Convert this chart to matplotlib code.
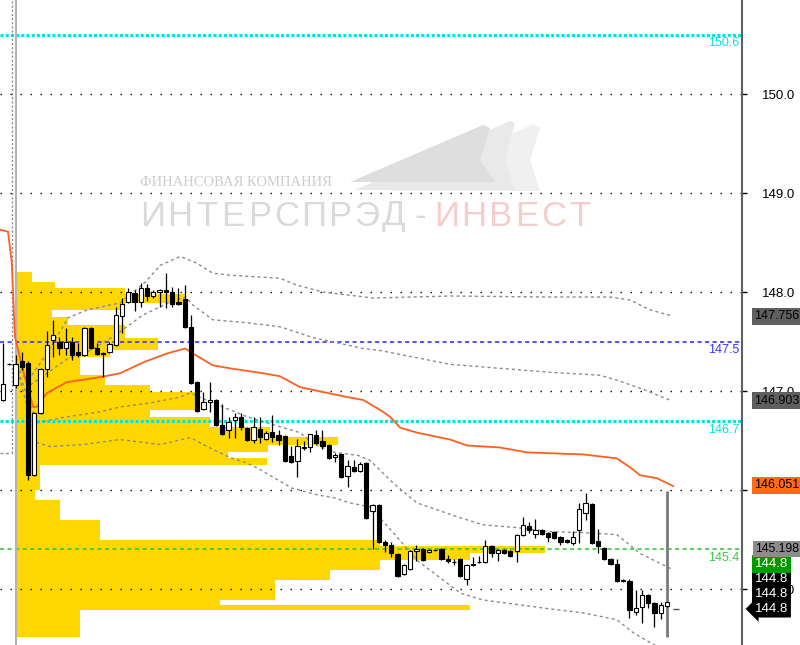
import matplotlib
matplotlib.use('Agg')
import matplotlib.pyplot as plt
from matplotlib.patches import Polygon
from matplotlib.transforms import blended_transform_factory

plt.rcParams['font.family'] = ['Liberation Sans', 'DejaVu Sans']

# candles, one per bar index
opens = [146.91, 147.27, 147.06, 147.30, 147.28, 146.15, 146.78, 147.22, 147.52, 147.50,
         147.43, 147.50, 147.39, 147.36, 147.64, 147.43, 147.38, 147.39, 147.47, 147.76,
         147.90, 147.99, 147.90, 148.04, 147.96, 148.00, 148.02, 148.00, 147.90, 147.93,
         147.65, 147.09, 146.82, 146.89, 146.91, 146.66, 146.61, 146.71, 146.74, 146.63,
         146.51, 146.62, 146.52, 146.59, 146.56, 146.55, 146.34, 146.29, 146.42, 146.44,
         146.56, 146.50, 146.46, 146.33, 146.36, 146.14, 146.23, 146.19, 146.27, 145.79,
         145.85, 145.48, 145.45, 145.35, 145.15, 145.20, 145.38, 145.40, 145.37, 145.39,
         145.40, 145.30, 145.27, 145.30, 145.10, 145.25, 145.27, 145.27, 145.44, 145.36,
         145.39, 145.38, 145.38, 145.55, 145.64, 145.56, 145.60, 145.57, 145.58, 145.53,
         145.50, 145.47, 145.60, 145.77, 145.86, 145.49, 145.41, 145.30, 145.25, 145.09,
         145.08, 144.77, 144.82, 144.94, 144.86, 144.76, 144.83]
highs = [147.49, 147.28, 147.36, 147.39, 147.30, 146.79, 147.23, 147.61, 147.72, 147.55,
         147.64, 147.55, 147.49, 147.65, 147.65, 147.49, 147.39, 147.50, 147.85, 147.94,
         148.04, 148.02, 148.09, 148.08, 148.02, 148.03, 148.19, 148.05, 148.04, 148.07,
         147.77, 147.10, 146.99, 147.09, 146.92, 146.87, 146.74, 146.78, 146.78, 146.64,
         146.74, 146.74, 146.60, 146.76, 146.61, 146.56, 146.45, 146.52, 146.50, 146.57,
         146.61, 146.61, 146.47, 146.37, 146.37, 146.30, 146.30, 146.28, 146.28, 145.86,
         145.86, 145.50, 145.48, 145.36, 145.25, 145.39, 145.45, 145.41, 145.40, 145.40,
         145.41, 145.34, 145.30, 145.31, 145.25, 145.32, 145.33, 145.50, 145.45, 145.40,
         145.40, 145.39, 145.56, 145.73, 145.68, 145.71, 145.61, 145.58, 145.59, 145.54,
         145.51, 145.59, 145.87, 145.97, 145.87, 145.61, 145.42, 145.31, 145.30, 145.10,
         145.10, 144.99, 144.99, 144.95, 144.87, 144.87, 144.87]
lows = [146.90, 147.26, 147.03, 147.21, 146.10, 146.14, 146.77, 147.14, 147.34, 147.36,
        147.36, 147.31, 147.34, 147.35, 147.42, 147.36, 147.14, 147.38, 147.46, 147.59,
        147.89, 147.81, 147.85, 147.91, 147.94, 147.85, 147.84, 147.85, 147.87, 147.64,
        147.07, 146.79, 146.81, 146.79, 146.65, 146.56, 146.53, 146.53, 146.61, 146.50,
        146.48, 146.48, 146.51, 146.49, 146.46, 146.28, 146.27, 146.13, 146.40, 146.38,
        146.47, 146.41, 146.31, 146.28, 146.12, 146.03, 146.18, 146.18, 145.71, 145.40,
        145.47, 145.37, 145.32, 145.12, 145.14, 145.19, 145.28, 145.28, 145.36, 145.38,
        145.29, 145.26, 145.24, 145.12, 145.04, 145.23, 145.26, 145.26, 145.32, 145.28,
        145.35, 145.32, 145.27, 145.54, 145.57, 145.52, 145.55, 145.48, 145.51, 145.45,
        145.47, 145.45, 145.47, 145.70, 145.46, 145.36, 145.29, 145.24, 145.07, 145.07,
        144.71, 144.74, 144.66, 144.81, 144.62, 144.70, 144.82]
closes = [147.07, 147.27, 147.27, 147.24, 146.15, 146.78, 147.22, 147.47, 147.57, 147.43,
          147.50, 147.36, 147.36, 147.64, 147.43, 147.37, 147.37, 147.48, 147.77, 147.88,
          148.00, 147.90, 148.04, 147.96, 148.00, 148.02, 148.00, 147.88, 147.88, 147.65,
          147.08, 146.80, 146.89, 146.91, 146.66, 146.57, 146.69, 146.74, 146.64, 146.51,
          146.64, 146.54, 146.58, 146.54, 146.51, 146.29, 146.28, 146.45, 146.43, 146.57,
          146.48, 146.45, 146.32, 146.35, 146.13, 146.24, 146.19, 146.26, 145.72, 145.85,
          145.48, 145.45, 145.36, 145.13, 145.24, 145.38, 145.40, 145.29, 145.39, 145.39,
          145.30, 145.28, 145.27, 145.13, 145.24, 145.24, 145.27, 145.43, 145.36, 145.39,
          145.36, 145.33, 145.55, 145.65, 145.60, 145.60, 145.56, 145.53, 145.52, 145.48,
          145.48, 145.53, 145.81, 145.87, 145.47, 145.43, 145.30, 145.25, 145.08, 145.08,
          144.79, 144.81, 144.94, 144.86, 144.76, 144.84, 144.87]

# vwap (orange) and its bands
vwap_x = [-0.5, 0.8, 1.4, 1.9, 3.2, 4.8, 5.4, 7.0, 10.2, 15.5, 18.7, 22.4, 26.2, 29.1, 30.3,
          33.5, 36.2, 41.5, 44.2, 47.4, 51.1, 54.9, 57.5, 60.2, 61.8, 63.4, 66.1, 71.4, 74.1,
          79.3, 83.7, 92.6, 98.0, 100.1, 101.7, 104.4, 106.0, 107.0]
vwap_y = [148.63, 148.61, 148.30, 147.55, 147.21, 146.84, 146.84, 146.98, 147.09, 147.14,
          147.18, 147.29, 147.38, 147.43, 147.38, 147.26, 147.23, 147.18, 147.15, 147.04,
          146.99, 146.94, 146.91, 146.81, 146.74, 146.63, 146.58, 146.51, 146.45, 146.43,
          146.38, 146.36, 146.32, 146.23, 146.15, 146.12, 146.07, 146.04]

up2_x = [2.1, 4.6, 7.0, 10.4, 13.4, 18.7, 22.7, 25.1, 28.3, 31.0, 33.5, 36.2, 44.2, 46.9,
         51.1, 59.1, 71.4, 87.3, 96.9, 100.1, 103.3, 106.8]
up2_y = [147.26, 147.16, 147.38, 147.74, 147.82, 147.89, 148.10, 148.27, 148.36, 148.29,
         148.19, 148.17, 148.14, 148.07, 148.00, 147.94, 147.96, 147.95, 147.95, 147.92,
         147.82, 147.76]
up1_x = [2.1, 4.3, 7.0, 10.4, 13.9, 17.6, 22.4, 26.7, 29.2, 30.3, 33.5, 39.0, 44.2, 49.5,
         57.5, 60.2, 66.6, 71.4, 79.3, 87.3, 95.3, 98.5, 102.5, 106.8]
up1_y = [147.26, 147.06, 147.18, 147.33, 147.41, 147.55, 147.77, 147.90, 147.95, 147.87,
         147.72, 147.69, 147.65, 147.54, 147.43, 147.41, 147.33, 147.27, 147.23, 147.19,
         147.16, 147.10, 147.01, 146.90]
lo1_x = [2.1, 5.4, 10.2, 15.5, 18.7, 23.5, 28.3, 29.9, 33.5, 39.0, 44.2, 47.4, 49.8, 53.0,
         56.7, 58.6, 62.3, 66.1, 73.0, 76.6, 82.1, 87.3, 92.6, 98.0, 101.7, 106.8]
lo1_y = [147.26, 146.68, 146.74, 146.79, 146.84, 146.88, 146.94, 146.98, 146.88, 146.74,
         146.64, 146.58, 146.46, 146.38, 146.35, 146.30, 146.07, 145.87, 145.72, 145.65,
         145.62, 145.58, 145.57, 145.55, 145.36, 145.20]
lo2_x = [2.1, 5.4, 7.5, 12.8, 18.7, 25.1, 29.9, 33.5, 36.2, 38.6, 40.7, 46.1, 50.3, 53.0,
         55.4, 58.6, 62.3, 66.1, 73.0, 76.6, 87.3, 92.6, 98.0, 100.6, 103.3, 106.8]
lo2_y = [147.26, 146.48, 146.44, 146.46, 146.51, 146.46, 146.53, 146.41, 146.33, 146.28,
         146.22, 146.02, 145.95, 145.92, 145.87, 145.83, 145.57, 145.29, 144.96, 144.89,
         144.80, 144.76, 144.69, 144.56, 144.46, 144.34]
prev_band = 146.37

# volume profile of the session (price bin edges, top to bottom, and volume)
prof_edges = [148.20, 148.10, 148.04, 147.98, 147.89, 147.82, 147.75, 147.67, 147.54, 147.41,
              147.34, 147.16, 147.06, 146.99, 146.81, 146.74, 146.64, 146.54, 146.46, 146.38,
              146.32, 146.25, 146.00, 145.90, 145.70, 145.50, 145.44, 145.36, 145.29, 145.19,
              145.09, 144.89, 144.84, 144.79, 144.52]
prof_vol = [16, 39, 109, 169, 109, 36, 52, 109, 142, 94, 64, 89, 134, 179, 134, 194, 254, 322,
            252, 212, 251, 24, 19, 44, 84, 364, 529, 454, 364, 314, 259, 204, 454, 64]
session_start = 2.08

levels = [150.6, 147.5, 146.7, 145.4]
level_colors = ['#00e4e4', '#3636ff', '#00e4e4', '#3cc83c']
level_styles = [(0, (1, 0.7)), (0, (2.5, 2)), (0, (1, 0.7)), (0, (2.5, 2))]
level_widths = [2.2, 1.2, 2.2, 1.2]

band_ends = [147.756, 146.903, 146.051]
band_colors = ['#5f5f5f', '#5f5f5f', '#ff6a1a']
low_band_end = 145.198
last_price = 144.8

fig = plt.figure(figsize=(8, 6.45), dpi=100)
ax = fig.add_axes([0, 0, 742 / 800, 1])
ax.patch.set_visible(False)
ax.set_xlim(-0.48, 117.98)
ax.set_ylim(144.435, 150.95)

# watermark
def px(x, y):
    return (x / 800, 1 - y / 645)

for pts, col in [([(390, 191), (533, 124), (540, 128), (530, 160), (540, 191)], '#f0f0f0'),
                 ([(355, 190), (510, 121), (515, 123), (505, 160), (515, 190)], '#e9e9e9'),
                 ([(350, 182), (483, 125), (490, 128), (480, 160), (495, 182)], '#dedede')]:
    fig.add_artist(Polygon([px(*p) for p in pts], closed=True, fc=col, ec='none',
                           transform=fig.transFigure, zorder=-2))
fig.text(*px(140, 186), 'ФИНАНСОВАЯ КОМПАНИЯ', family='Liberation Serif', fontsize=10.5,
         color='#cdcdcd', va='baseline', zorder=-1)
word = 'ИНТЕРСПРЭД-ИНВЕСТ'
for k, ch in enumerate(word):
    col = '#dadada' if k < 11 else '#f6cccc'
    fig.text(*px(153 + k * 26.7, 216), ch, family='Liberation Sans', fontsize=25,
             color=col, ha='center', va='center', zorder=-1)

# volume profile
centers = [(a + b) / 2 for a, b in zip(prof_edges[:-1], prof_edges[1:])]
heights = [a - b for a, b in zip(prof_edges[:-1], prof_edges[1:])]
ax.barh(centers, [v / 6.264 for v in prof_vol], height=heights, left=session_start,
        color='#ffd700', lw=0, zorder=1)

# grid and levels
for p in range(145, 151):
    ax.axhline(p, color='black', lw=1, ls=(0, (1, 6.2)), zorder=2)
trans = blended_transform_factory(ax.transAxes, ax.transData)
for lv, c, st, w in zip(levels, level_colors, level_styles, level_widths):
    ax.axhline(lv, color=c, lw=w, ls=st, zorder=2)
    ax.annotate(f'{lv}', xy=(1, lv), xycoords=trans, xytext=(-2, -2),
                textcoords='offset points', ha='right', va='top', color=c, fontsize=9)

# session separators
ax.axvline(session_start, color='#b4b4b4', lw=1.5, zorder=2)
ax.vlines(1.4, prev_band, 151, color='#8c8c8c', lw=1, ls=(0, (1.5, 1.5)), zorder=2)
ax.plot([-0.5, 1.4], [prev_band, prev_band], color='#8c8c8c', lw=1, ls=(0, (2, 2)), zorder=2)

# bands and vwap
for bx, by in [(up2_x, up2_y), (up1_x, up1_y), (lo1_x, lo1_y), (lo2_x, lo2_y)]:
    ax.plot(bx, by, color='#8c8c8c', lw=1, ls=(0, (2.2, 2.2)), zorder=3)
ax.plot(vwap_x, vwap_y, color='#ff5f1f', lw=1.3, zorder=3)

# cursor
n = len(opens)
ax.vlines(n - 1, 144.52, 145.99, color='#7a7a7a', lw=2, zorder=3)
ax.hlines(last_price, n, n + 0.9, color='#555555', lw=1, zorder=3)

# candles
xs = list(range(n))
ax.vlines(xs, lows, highs, color='black', lw=0.9, zorder=4)
bottoms = [min(o, c) for o, c in zip(opens, closes)]
tall = [max(abs(c - o), 0.006) for o, c in zip(opens, closes)]
cols = ['white' if c >= o else 'black' for o, c in zip(opens, closes)]
ax.bar(xs, tall, bottom=bottoms, width=0.68, color=cols, edgecolor='black', lw=0.8, zorder=5)

# axis
for s in ['top', 'left', 'bottom']:
    ax.spines[s].set_visible(False)
ax.spines['right'].set_color('#606060')
ax.spines['right'].set_linewidth(1.5)
ax.set_xticks([])
ax.yaxis.tick_right()
ax.set_yticks(range(145, 151))
# 146.0 sits fully under the orange price box
ax.set_yticklabels(['145.0', '', '147.0', '148.0', '149.0', '150.0'])
ax.tick_params(axis='y', length=3.6, width=1, pad=11, labelsize=9.5, colors='black')

# price boxes on the right
for v, c in zip(band_ends, band_colors):
    ax.text(1 + 12 / 742, v, f'{v:.3f}', transform=trans, ha='left', va='center',
            fontsize=9, color='black', zorder=6, clip_on=False,
            bbox=dict(boxstyle='square,pad=0.2', fc=c, ec='none'))
stack = [('#000000', 'white', 'larrow,pad=0.2', f'{last_price}', 9.5),
         ('#000000', 'white', 'square,pad=0.2', f'{last_price}', 9.5),
         ('#000000', 'white', 'square,pad=0.2', f'{last_price}', 9.5),
         ('#009a00', 'white', 'square,pad=0.2', f'{last_price}', 9.5),
         ('#8c8c8c', 'black', 'square,pad=0.15', f'{low_band_end:.3f}', 8.8)]
for k, (fc, tc, bs, txt, fs) in enumerate(stack):
    ax.annotate(txt, xy=(1 + 13 / 742, last_price), xycoords=trans,
                xytext=(0, k * 10.8), textcoords='offset points', ha='left', va='center',
                fontsize=fs, color=tc, zorder=6 + k, annotation_clip=False,
                bbox=dict(boxstyle=bs, fc=fc, ec='none'))

fig.savefig('out.png', dpi=100)
